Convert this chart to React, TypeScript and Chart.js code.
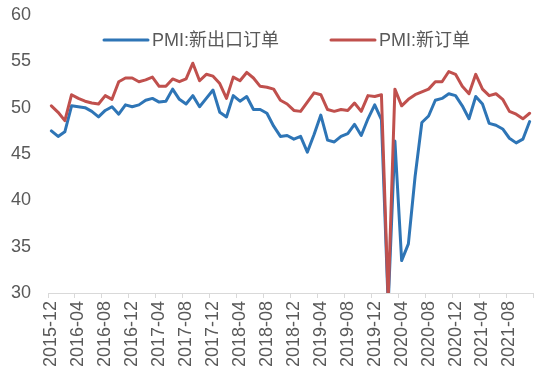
import React, { useEffect, useRef } from "react";
import { Chart, registerables } from "chart.js";

Chart.register(...registerables);

const categories: string[] = [
  "2015-12",
  "2016-01", "2016-02", "2016-03", "2016-04", "2016-05", "2016-06", "2016-07", "2016-08", "2016-09", "2016-10", "2016-11", "2016-12",
  "2017-01", "2017-02", "2017-03", "2017-04", "2017-05", "2017-06", "2017-07", "2017-08", "2017-09", "2017-10", "2017-11", "2017-12",
  "2018-01", "2018-02", "2018-03", "2018-04", "2018-05", "2018-06", "2018-07", "2018-08", "2018-09", "2018-10", "2018-11", "2018-12",
  "2019-01", "2019-02", "2019-03", "2019-04", "2019-05", "2019-06", "2019-07", "2019-08", "2019-09", "2019-10", "2019-11", "2019-12",
  "2020-01", "2020-02", "2020-03", "2020-04", "2020-05", "2020-06", "2020-07", "2020-08", "2020-09", "2020-10", "2020-11", "2020-12",
  "2021-01", "2021-02", "2021-03", "2021-04", "2021-05", "2021-06", "2021-07", "2021-08", "2021-09", "2021-10", "2021-11",
];

// PMI: 新出口订单
const newExportOrders: number[] = [
  47.5,
  46.9, 47.4, 50.2, 50.1, 50.0, 49.6, 49.0, 49.7, 50.1, 49.3, 50.3, 50.1,
  50.3, 50.8, 51.0, 50.6, 50.7, 52.0, 50.9, 50.4, 51.3, 50.1, 51.0, 51.9,
  49.5, 49.0, 51.3, 50.7, 51.2, 49.8, 49.8, 49.4, 48.0, 46.9, 47.0, 46.6,
  46.9, 45.2, 47.1, 49.2, 46.5, 46.3, 46.9, 47.2, 48.2, 47.0, 48.8, 50.3,
  48.7, 28.7, 46.4, 33.5, 35.3, 42.6, 48.4, 49.1, 50.8, 51.0, 51.5, 51.3,
  50.2, 48.8, 51.2, 50.4, 48.3, 48.1, 47.7, 46.7, 46.2, 46.6, 48.5,
];

// PMI: 新订单
const newOrders: number[] = [
  50.2,
  49.5, 48.6, 51.4, 51.0, 50.7, 50.5, 50.4, 51.3, 50.9, 52.8, 53.2, 53.2,
  52.8, 53.0, 53.3, 52.3, 52.3, 53.1, 52.8, 53.1, 54.8, 52.9, 53.6, 53.4,
  52.6, 51.0, 53.3, 52.9, 53.8, 53.2, 52.3, 52.2, 52.0, 50.8, 50.4, 49.7,
  49.6, 50.6, 51.6, 51.4, 49.8, 49.6, 49.8, 49.7, 50.5, 49.6, 51.3, 51.2,
  51.4, 29.3, 52.0, 50.2, 50.9, 51.4, 51.7, 52.0, 52.8, 52.8, 53.9, 53.6,
  52.3, 51.5, 53.6, 52.0, 51.3, 51.5, 50.9, 49.6, 49.3, 48.8, 49.4,
];

const seriesNames: string[] = ["PMI:新出口订单", "PMI:新订单"];
const seriesColors: string[] = ["#2E75B6", "#C0504D"];

const FONT_FAMILY = "'Liberation Sans', 'Noto Sans CJK SC', Arial, sans-serif";
const TEXT_COLOR = "#595959";
const LABEL_STEP = 4;

const legendPlugin = {
  id: "insideLegend",
  afterDraw(chart: any) {
    const ctx = chart.ctx as CanvasRenderingContext2D;
    const y = 40;
    const items = [
      { x: 104, name: seriesNames[0], color: seriesColors[0] },
      { x: 331, name: seriesNames[1], color: seriesColors[1] },
    ];
    ctx.save();
    ctx.font = `18px ${FONT_FAMILY}`;
    ctx.textBaseline = "middle";
    ctx.textAlign = "left";
    items.forEach((it) => {
      ctx.strokeStyle = it.color;
      ctx.lineWidth = 3;
      ctx.lineCap = "round";
      ctx.beginPath();
      ctx.moveTo(it.x, y);
      ctx.lineTo(it.x + 44, y);
      ctx.stroke();
      ctx.fillStyle = TEXT_COLOR;
      ctx.fillText(it.name, it.x + 48, y + 1);
    });
    ctx.restore();
  },
};

export default function App() {
  const canvasRef = useRef<HTMLCanvasElement | null>(null);

  useEffect(() => {
    const canvas = canvasRef.current;
    if (!canvas) return;
    const chart = new Chart(canvas, {
      type: "line",
      data: {
        labels: categories,
        datasets: [
          {
            label: seriesNames[0],
            data: newExportOrders,
            borderColor: seriesColors[0],
            backgroundColor: seriesColors[0],
            borderWidth: 3,
            pointRadius: 0,
            tension: 0,
            borderJoinStyle: "round",
            borderCapStyle: "round",
            order: 1,
          },
          {
            label: seriesNames[1],
            data: newOrders,
            borderColor: seriesColors[1],
            backgroundColor: seriesColors[1],
            borderWidth: 3,
            pointRadius: 0,
            tension: 0,
            borderJoinStyle: "round",
            borderCapStyle: "round",
            order: 0,
          },
        ],
      },
      options: {
        responsive: false,
        animation: false,
        devicePixelRatio: 1,
        layout: { padding: { top: 15, right: 17, bottom: 13, left: 11 } },
        plugins: {
          legend: { display: false },
          tooltip: { enabled: false },
        },
        scales: {
          x: {
            type: "category",
            offset: true,
            border: { display: true, color: "#D9D9D9", width: 1 },
            grid: {
              display: true,
              offset: true,
              drawOnChartArea: false,
              drawTicks: true,
              tickLength: 5,
              color: (c: any) =>
                c.index === undefined || c.index % LABEL_STEP === 0 ? "#D9D9D9" : "rgba(0,0,0,0)",
            },
            ticks: {
              autoSkip: false,
              maxRotation: 90,
              minRotation: 90,
              padding: 3,
              color: TEXT_COLOR,
              font: { family: FONT_FAMILY, size: 18 },
              callback: (_v: any, i: number) => (i % LABEL_STEP === 0 ? categories[i] : ""),
            },
            afterFit: (scale: any) => {
              scale.paddingLeft = 0;
              scale.paddingRight = 0;
              scale.height = 74;
            },
          },
          y: {
            min: 30,
            max: 60,
            border: { display: false },
            grid: { display: false, drawTicks: false },
            ticks: {
              stepSize: 5,
              padding: 17,
              color: TEXT_COLOR,
              font: { family: FONT_FAMILY, size: 18 },
            },
            afterFit: (scale: any) => {
              scale.width = 37;
              scale.paddingTop = 0;
              scale.paddingBottom = 0;
            },
          },
        },
      },
      plugins: [legendPlugin],
    });
    return () => chart.destroy();
  }, []);

  return (
    <div style={{ position: "absolute", left: 0, top: 0, width: 550, height: 380, background: "#fff" }}>
      <canvas ref={canvasRef} width={550} height={380} style={{ display: "block" }} />
    </div>
  );
}
